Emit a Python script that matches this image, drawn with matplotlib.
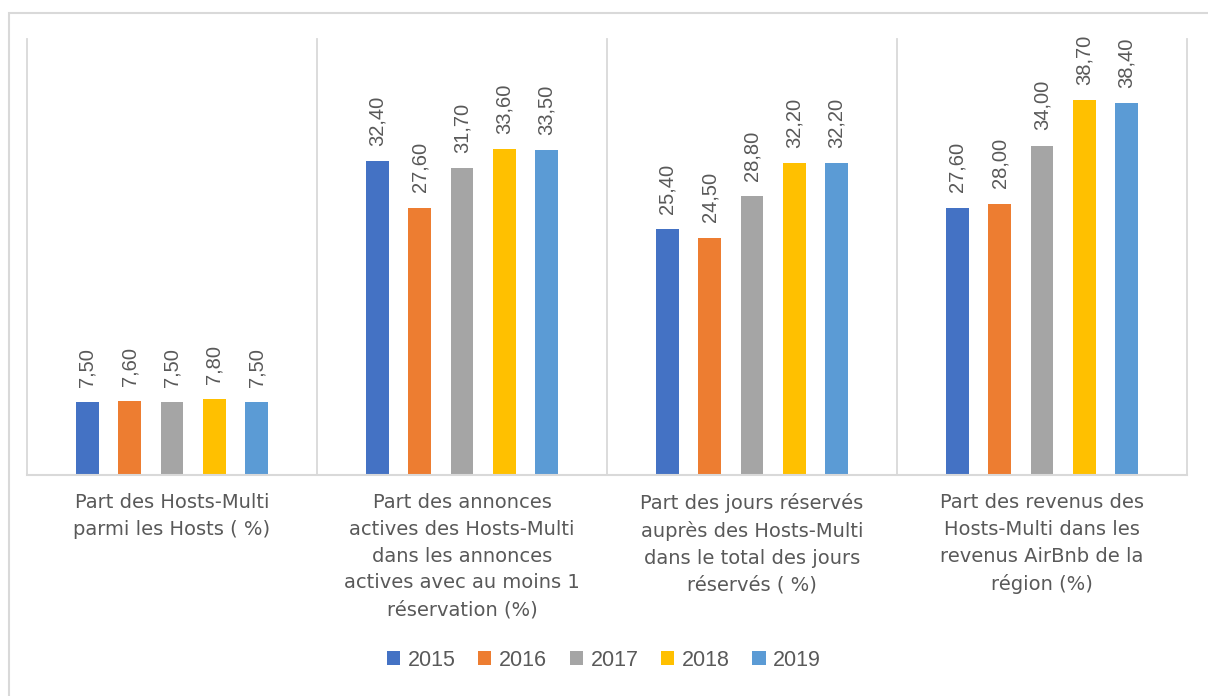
import numpy as np
import matplotlib as mpl
mpl.use('Agg')
import matplotlib.pyplot as plt
from matplotlib.patches import Patch, Rectangle

# data
categories = [
    "Part des Hosts-Multi\nparmi les Hosts ( %)",
    "Part des annonces\nactives des Hosts-Multi\ndans les annonces\nactives avec au moins 1\nréservation (%)",
    "Part des jours réservés\nauprès des Hosts-Multi\ndans le total des jours\nréservés ( %)",
    "Part des revenus des\nHosts-Multi dans les\nrevenus AirBnb de la\nrégion (%)",
]
years = ["2015", "2016", "2017", "2018", "2019"]
v2015 = [7.50, 32.40, 25.40, 27.60]
v2016 = [7.60, 27.60, 24.50, 28.00]
v2017 = [7.50, 31.70, 28.80, 34.00]
v2018 = [7.80, 33.60, 32.20, 38.70]
v2019 = [7.50, 33.50, 32.20, 38.40]
series = [v2015, v2016, v2017, v2018, v2019]
colors = ['#4472C4', '#ED7D31', '#A5A5A5', '#FFC000', '#5B9BD5']

grey = '#595959'
line_col = '#D9D9D9'

fig = plt.figure(figsize=(12.08, 6.96), dpi=100)
ax = fig.add_axes([27/1208, (696-475)/696, 1160/1208, 436/696])

x = np.arange(len(categories))
pitch = 0.146
width = 0.078
for i, (vals, col) in enumerate(zip(series, colors)):
    pos = x + (i - 2) * pitch
    ax.bar(pos, vals, width, color=col, zorder=2)
    for px, v in zip(pos, vals):
        ax.annotate(f"{v:.2f}".replace('.', ','), (px, v), xytext=(0, 11),
                    textcoords='offset points', rotation=90, ha='center', va='bottom',
                    fontsize=14.5, color=grey, family='Liberation Sans')

ax.set_xlim(-0.5, len(categories) - 0.5)
ax.set_ylim(0, 45)
ax.set_yticks([])
for s in ['left', 'right', 'top']:
    ax.spines[s].set_visible(False)
ax.spines['bottom'].set_color(line_col)
ax.spines['bottom'].set_linewidth(1.5)
for b in np.arange(-0.5, len(categories), 1.0):
    ax.axvline(b, color=line_col, lw=1.3, zorder=1, clip_on=False)

ax.set_xticks(x)
ax.set_xticklabels(categories, fontsize=14, color=grey, linespacing=1.52,
                   family='DejaVu Sans')
ax.tick_params(axis='x', length=0, pad=13)

handles = [Patch(facecolor=c, label=y) for c, y in zip(colors, years)]
fig.legend(handles=handles, loc='center', bbox_to_anchor=(0.5, 1 - 660/696), ncol=5,
           frameon=False, prop={'family': 'Liberation Sans', 'size': 15.5},
           handlelength=0.62, handleheight=0.62, handletextpad=0.35,
           columnspacing=1.05, labelcolor=grey)

fig.add_artist(Rectangle((8.5/1208, -0.1), 1.2, 0.1 + 1 - 12.5/696,
                         transform=fig.transFigure, fill=False, ec=line_col, lw=1.5))

fig.savefig('out.png', dpi=100)
